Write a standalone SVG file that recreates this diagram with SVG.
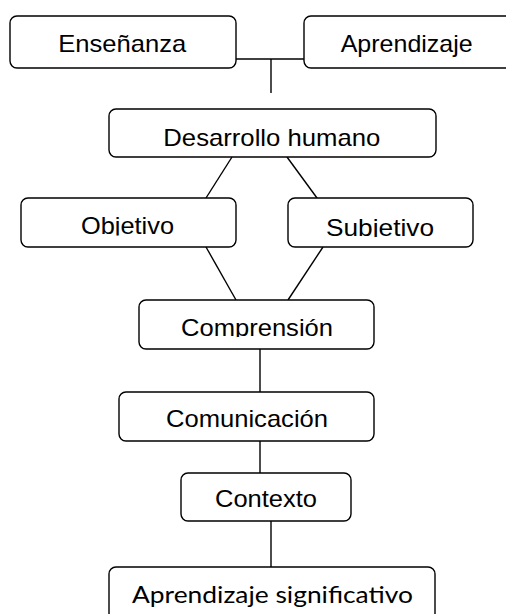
<svg xmlns="http://www.w3.org/2000/svg" width="506" height="614" viewBox="0 0 506 614">
<style>
.box{fill:#fff;stroke:#000;stroke-width:1.4}
.t{font-family:"Liberation Sans",Arial,sans-serif;font-size:24px;fill:#000}
.c{font-family:Lato,"Open Sans",sans-serif;font-size:23px;fill:#000}
.ln{fill:none;stroke:#000;stroke-width:1.4}
</style>
<defs>
<clipPath id="clipObj" clipPathUnits="userSpaceOnUse"><rect x="0" y="190" width="506" height="45.5"/></clipPath>
<clipPath id="clipSub" clipPathUnits="userSpaceOnUse"><rect x="0" y="190" width="506" height="47"/></clipPath>
<clipPath id="clipComp" clipPathUnits="userSpaceOnUse"><rect x="0" y="300" width="506" height="37"/></clipPath>
</defs>
<rect width="506" height="614" fill="#fff"/>
<g id="connectors">
<path class="ln" d="M236 59H304"/>
<path class="ln" d="M271 59V93"/>
<path class="ln" d="M232 157L206 198"/>
<path class="ln" d="M287 157L317 198"/>
<path class="ln" d="M206 247L236 300"/>
<path class="ln" d="M323 247L288 300"/>
<path class="ln" d="M260 349V392"/>
<path class="ln" d="M260 441V473"/>
<path class="ln" d="M271 521V567"/>
</g>
<g id="ensenanza">
<rect class="box" x="10" y="16" width="226" height="52" rx="7"/>
<text class="t" x="58.3" y="52" textLength="128" lengthAdjust="spacingAndGlyphs">Enseñanza</text>
</g>
<g id="aprendizaje">
<rect class="box" x="304" y="16" width="220" height="52" rx="7"/>
<text class="t" x="340.7" y="52" textLength="132" lengthAdjust="spacingAndGlyphs">Aprendizaje</text>
</g>
<g id="desarrollo">
<rect class="box" x="109" y="109" width="327" height="48" rx="7"/>
<text class="t" x="163.3" y="146" textLength="217" lengthAdjust="spacingAndGlyphs">Desarrollo humano</text>
</g>
<g id="objetivo">
<rect class="box" x="21" y="198" width="215" height="49" rx="7"/>
<text class="t" x="81" y="234" textLength="93" lengthAdjust="spacingAndGlyphs" clip-path="url(#clipObj)">Objetivo</text>
</g>
<g id="subjetivo">
<rect class="box" x="288" y="198" width="185" height="49" rx="7"/>
<text class="t" x="326" y="236" textLength="108" lengthAdjust="spacingAndGlyphs" clip-path="url(#clipSub)">Subjetivo</text>
</g>
<g id="comprension">
<rect class="box" x="139" y="300" width="235" height="49" rx="7"/>
<text class="t" x="181" y="335.7" textLength="152" lengthAdjust="spacingAndGlyphs" clip-path="url(#clipComp)">Comprensión</text>
</g>
<g id="comunicacion">
<rect class="box" x="119" y="392" width="255" height="49" rx="7"/>
<text class="t" x="166" y="427.3" textLength="162" lengthAdjust="spacingAndGlyphs">Comunicación</text>
</g>
<g id="contexto">
<rect class="box" x="181" y="473" width="170" height="48" rx="7"/>
<text class="t" x="215" y="507.3" textLength="102" lengthAdjust="spacingAndGlyphs">Contexto</text>
</g>
<g id="aprendizaje-significativo">
<rect class="box" x="109" y="567" width="326" height="60" rx="7"/>
<text class="c" x="132" y="603.3" textLength="281" lengthAdjust="spacingAndGlyphs">Aprendizaje significativo</text>
</g>
</svg>
